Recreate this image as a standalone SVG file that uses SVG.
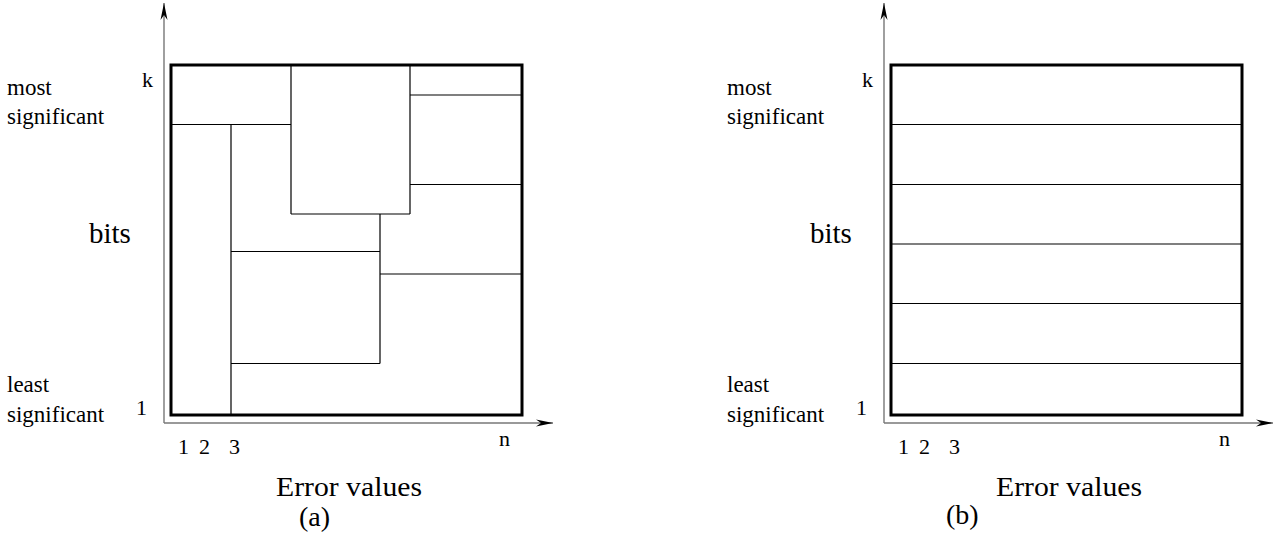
<svg xmlns="http://www.w3.org/2000/svg" width="1281" height="538" viewBox="0 0 1281 538">
<style>
.axis{stroke:#777;stroke-width:1.4;fill:none}
.frame{stroke:#000;stroke-width:3;fill:none}
.div{stroke:#000;stroke-width:1.2;fill:none}
</style>
<defs>
<marker id="arr" viewBox="-18 -4 19 8" refX="0" refY="0" markerWidth="19" markerHeight="8" markerUnits="userSpaceOnUse" orient="auto">
<path d="M0,0 L-17,-3.5 L-12,0 L-17,3.5 Z" fill="#000"/>
</marker>
</defs>
<rect width="1281" height="538" fill="#fff"/>

<g id="panel-a">
<g id="axes-a">
<line class="axis" x1="164" y1="423" x2="164" y2="3" marker-end="url(#arr)"/>
<line class="axis" x1="164" y1="423" x2="553" y2="423" marker-end="url(#arr)"/>
</g>
<g id="frame-a">
<rect class="frame" x="171" y="65" width="351" height="350"/>
</g>
<g id="blocks-a">
<path class="div" d="M291,65 V214 M171,124.5 H291 M231,124.5 V415 M410,65 V214 M291,214 H410 M410,95 H522 M410,184.5 H522 M380,214 V363.5 M231,251.5 H380 M380,274 H522 M231,363.5 H380"/>
</g>
<g id="labels-a" fill="#000">
<text x="7" y="95" font-family="Liberation Serif" font-size="23">most</text>
<text x="7" y="124" font-family="Liberation Serif" font-size="23">significant</text>
<text x="7" y="392" font-family="Liberation Serif" font-size="23">least</text>
<text x="7" y="422" font-family="Liberation Serif" font-size="23">significant</text>
<text x="142" y="87" font-family="Liberation Serif" font-size="22">k</text>
<text x="136" y="415" font-family="Liberation Serif" font-size="22">1</text>
<text x="89" y="243" font-family="Liberation Serif" font-size="29">bits</text>
<text x="178" y="454" font-family="Liberation Serif" font-size="22">1</text>
<text x="199" y="454" font-family="Liberation Serif" font-size="22">2</text>
<text x="229" y="454" font-family="Liberation Serif" font-size="22">3</text>
<text x="499" y="446" font-family="Liberation Serif" font-size="22">n</text>
<text x="276" y="496" font-family="Liberation Serif" font-size="28" textLength="146" lengthAdjust="spacingAndGlyphs">Error values</text>
<text x="299" y="526" font-family="Liberation Serif" font-size="28">(a)</text>
</g>
</g>

<g id="panel-b">
<g id="axes-b">
<line class="axis" x1="884" y1="423" x2="884" y2="3" marker-end="url(#arr)"/>
<line class="axis" x1="884" y1="423" x2="1273" y2="423" marker-end="url(#arr)"/>
</g>
<g id="frame-b">
<rect class="frame" x="891" y="65" width="351" height="350"/>
</g>
<g id="bands-b">
<path class="div" d="M891,124.5 H1242 M891,184.5 H1242 M891,244 H1242 M891,303.5 H1242 M891,363.5 H1242"/>
</g>
<g id="labels-b" fill="#000">
<text x="727" y="95" font-family="Liberation Serif" font-size="23">most</text>
<text x="727" y="124" font-family="Liberation Serif" font-size="23">significant</text>
<text x="727" y="392" font-family="Liberation Serif" font-size="23">least</text>
<text x="727" y="422" font-family="Liberation Serif" font-size="23">significant</text>
<text x="862" y="87" font-family="Liberation Serif" font-size="22">k</text>
<text x="856" y="415" font-family="Liberation Serif" font-size="22">1</text>
<text x="810" y="243" font-family="Liberation Serif" font-size="29">bits</text>
<text x="898" y="454" font-family="Liberation Serif" font-size="22">1</text>
<text x="919" y="454" font-family="Liberation Serif" font-size="22">2</text>
<text x="949" y="454" font-family="Liberation Serif" font-size="22">3</text>
<text x="1219" y="446" font-family="Liberation Serif" font-size="22">n</text>
<text x="996" y="496" font-family="Liberation Serif" font-size="28" textLength="146" lengthAdjust="spacingAndGlyphs">Error values</text>
<text x="946" y="524" font-family="Liberation Serif" font-size="28">(b)</text>
</g>
</g>
</svg>
